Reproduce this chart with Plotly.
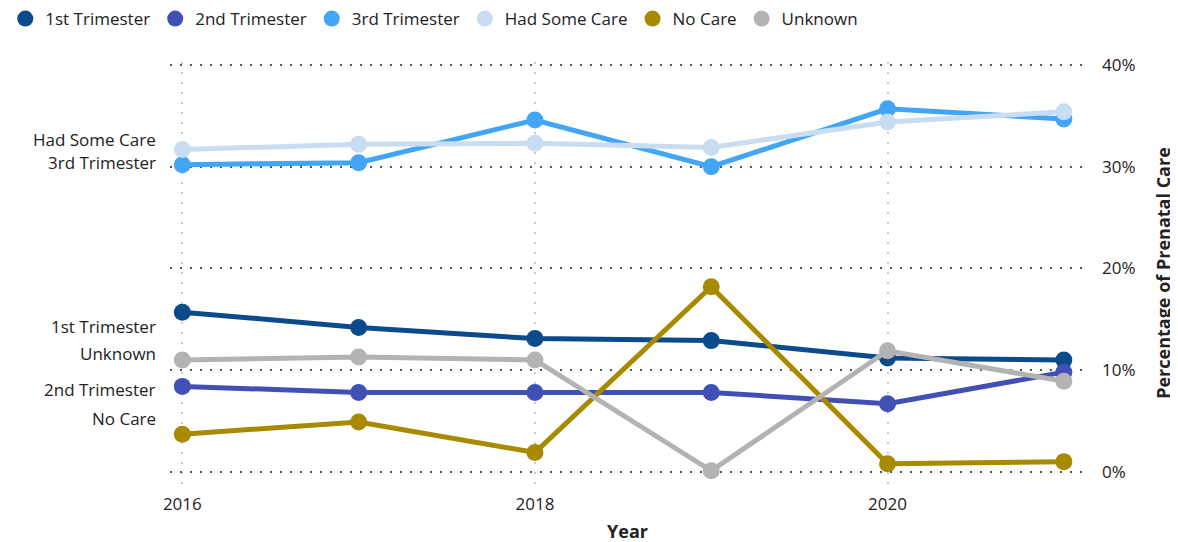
import plotly.graph_objects as go

# Prenatal care by trimester of entry, share of births
years = [2016, 2017, 2018, 2019, 2020, 2021]
first_trimester = [15.7, 14.2, 13.1, 12.9, 11.2, 11.0]
second_trimester = [8.4, 7.8, 7.8, 7.8, 6.7, 9.8]
third_trimester = [30.2, 30.4, 34.6, 30.0, 35.7, 34.7]
had_some_care = [31.7, 32.2, 32.3, 31.9, 34.4, 35.4]
no_care = [3.7, 4.9, 1.9, 18.2, 0.8, 1.0]
unknown = [11.0, 11.3, 11.0, 0.1, 11.9, 8.9]

y_ticks = [0, 10, 20, 30, 40]
x_ticks = [2016, 2018, 2020]

series = [
    ("1st Trimester", first_trimester, "#0b4a8b", -14),
    ("2nd Trimester", second_trimester, "#4150b4", -3),
    ("3rd Trimester", third_trimester, "#42a5f5", 2),
    ("Had Some Care", had_some_care, "#c9ddf2", 10),
    ("No Care", no_care, "#a88a00", 16),
    ("Unknown", unknown, "#b3b3b3", 6),
]

FONT = "Open Sans"

fig = go.Figure()

for name, vals, color, shift in series:
    fig.add_trace(go.Scatter(
        x=years, y=vals, mode="lines+markers", name=name,
        line=dict(color=color, width=5),
        marker=dict(color=color, size=17),
        showlegend=False,
    ))
    # legend-only marker so the legend shows a plain dot
    fig.add_trace(go.Scatter(
        x=[None], y=[None], mode="markers", name=name,
        marker=dict(color=color, size=20),
    ))
    fig.add_annotation(
        x=years[0], y=vals[0], text=name, showarrow=False,
        xanchor="right", xshift=-24, yshift=shift,
        font=dict(family=FONT, size=17, color="#222"),
    )

# the page body adds an 8px offset, so margins are shifted to compensate
fig.update_layout(
    width=1178, height=542,
    margin=dict(l=162, r=101, t=54, b=66, autoexpand=False),
    plot_bgcolor="white", paper_bgcolor="white",
    font=dict(family=FONT, size=17, color="#222"),
    legend=dict(orientation="h", x=-0.180, y=1.1445, xanchor="left", yanchor="top",
                font=dict(size=17), itemwidth=30, tracegroupgap=0),
    xaxis=dict(
        range=[2015.93, 2021.12], tickvals=x_ticks, ticktext=[str(v) for v in x_ticks],
        showgrid=True, gridcolor="#cccccc", gridwidth=2, griddash="2px,8px",
        zeroline=False, showline=False, ticks="", ticklabelstandoff=8,
        title=dict(text="<b>Year</b>", standoff=11, font=dict(size=18)),
    ),
    yaxis=dict(
        range=[-1.2, 40.3], side="right", tickvals=y_ticks,
        ticktext=[f"{v}%" for v in y_ticks],
        showgrid=True, gridcolor="#555555", gridwidth=2, griddash="2px,8px",
        zeroline=False, showline=False, ticks="", ticklabelstandoff=16,
        title=dict(text="<b>Percentage of Prenatal Care</b>", standoff=22, font=dict(size=18)),
    ),
)

fig.write_html("out.html")
